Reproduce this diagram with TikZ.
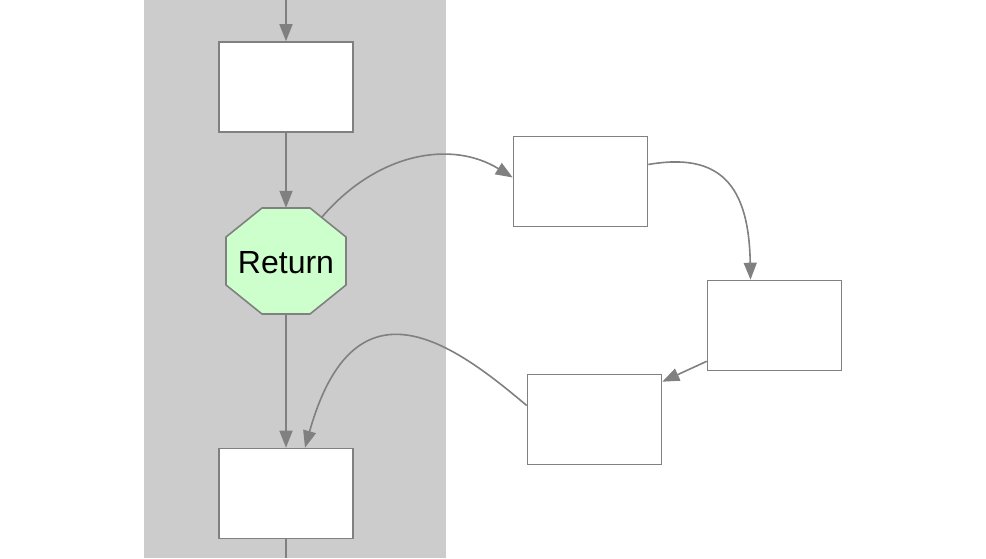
\documentclass[tikz,border=0pt]{standalone}
\usepackage{fontspec}
\setmainfont{Liberation Sans}
\usetikzlibrary{arrows.meta,calc}
\definecolor{lanegray}{HTML}{CCCCCC}
\definecolor{edgegray}{HTML}{808080}
\definecolor{retgreen}{HTML}{CCFFCC}
\begin{document}
\begin{tikzpicture}[x=1pt,y=-1pt,
  stepbox/.style={draw=edgegray,line width=1.6pt,fill=white,minimum width=134pt,minimum height=90pt,inner sep=0pt},
  conn/.style={draw=edgegray,line width=1.6pt,-{Triangle[length=17pt,width=13pt]}},
  plainconn/.style={draw=edgegray,line width=1.6pt}]
\useasboundingbox (0,0) rectangle (986,558);
\fill[lanegray] (144,0) rectangle (446,558);
\coordinate (topend) at (286,0);
\coordinate (botend) at (286,558);
\node[stepbox] (b1) at (286,87) {};
\node[stepbox] (b2) at (580.5,181.5) {};
\node[stepbox] (b3) at (774.5,325.5) {};
\node[stepbox] (b4) at (594.5,419.5) {};
\node[stepbox] (b5) at (286,493.5) {};
\coordinate (rc) at (286,261);
\draw[edgegray,line width=1.6pt,fill=retgreen,line join=round]
  ($(rc)+(-24,-53)$) -- ($(rc)+(24,-53)$) -- ($(rc)+(60,-24)$) -- ($(rc)+(60,24)$)
  -- ($(rc)+(24,53)$) -- ($(rc)+(-24,53)$) -- ($(rc)+(-60,24)$) -- ($(rc)+(-60,-24)$) -- cycle;
\node[minimum width=120pt,minimum height=106pt,inner sep=0pt] (ret) at (rc) {};
\node[inner sep=0pt,font=\fontsize{32}{34}\selectfont] (rettext) at ($(rc)+(0,2)$) {Return};
\coordinate (retout) at ($(rc)+(36,-44)$);
\draw[conn] (topend) -- (b1.north);
\draw[conn] (b1.south) -- (ret.north);
\draw[conn] (ret.south) -- (b5.north);
\draw[plainconn] (b5.south) -- (botend);
\coordinate (b2in) at ($(b2.west)+(0,-4)$);
\draw[conn] (retout) .. controls (378,152) and (452,140) .. (b2in);
\coordinate (b2out) at ($(b2.east)+(0,-17)$);
\coordinate (b3in) at ($(b3.north)+(-24,0)$);
\draw[conn] (b2out) .. controls (720,152) and (749,185) .. (b3in);
\coordinate (b3out) at ($(b3.south west)+(0,-10)$);
\coordinate (b4in) at ($(b4.north east)+(0,8)$);
\draw[conn] (b3out) -- (b4in);
\coordinate (b4out) at ($(b4.west)+(0,-14)$);
\coordinate (b5in) at ($(b5.north)+(19,0)$);
\draw[conn] (b4out) .. controls (455,345) and (355,270) .. (b5in);
\end{tikzpicture}
\end{document}
